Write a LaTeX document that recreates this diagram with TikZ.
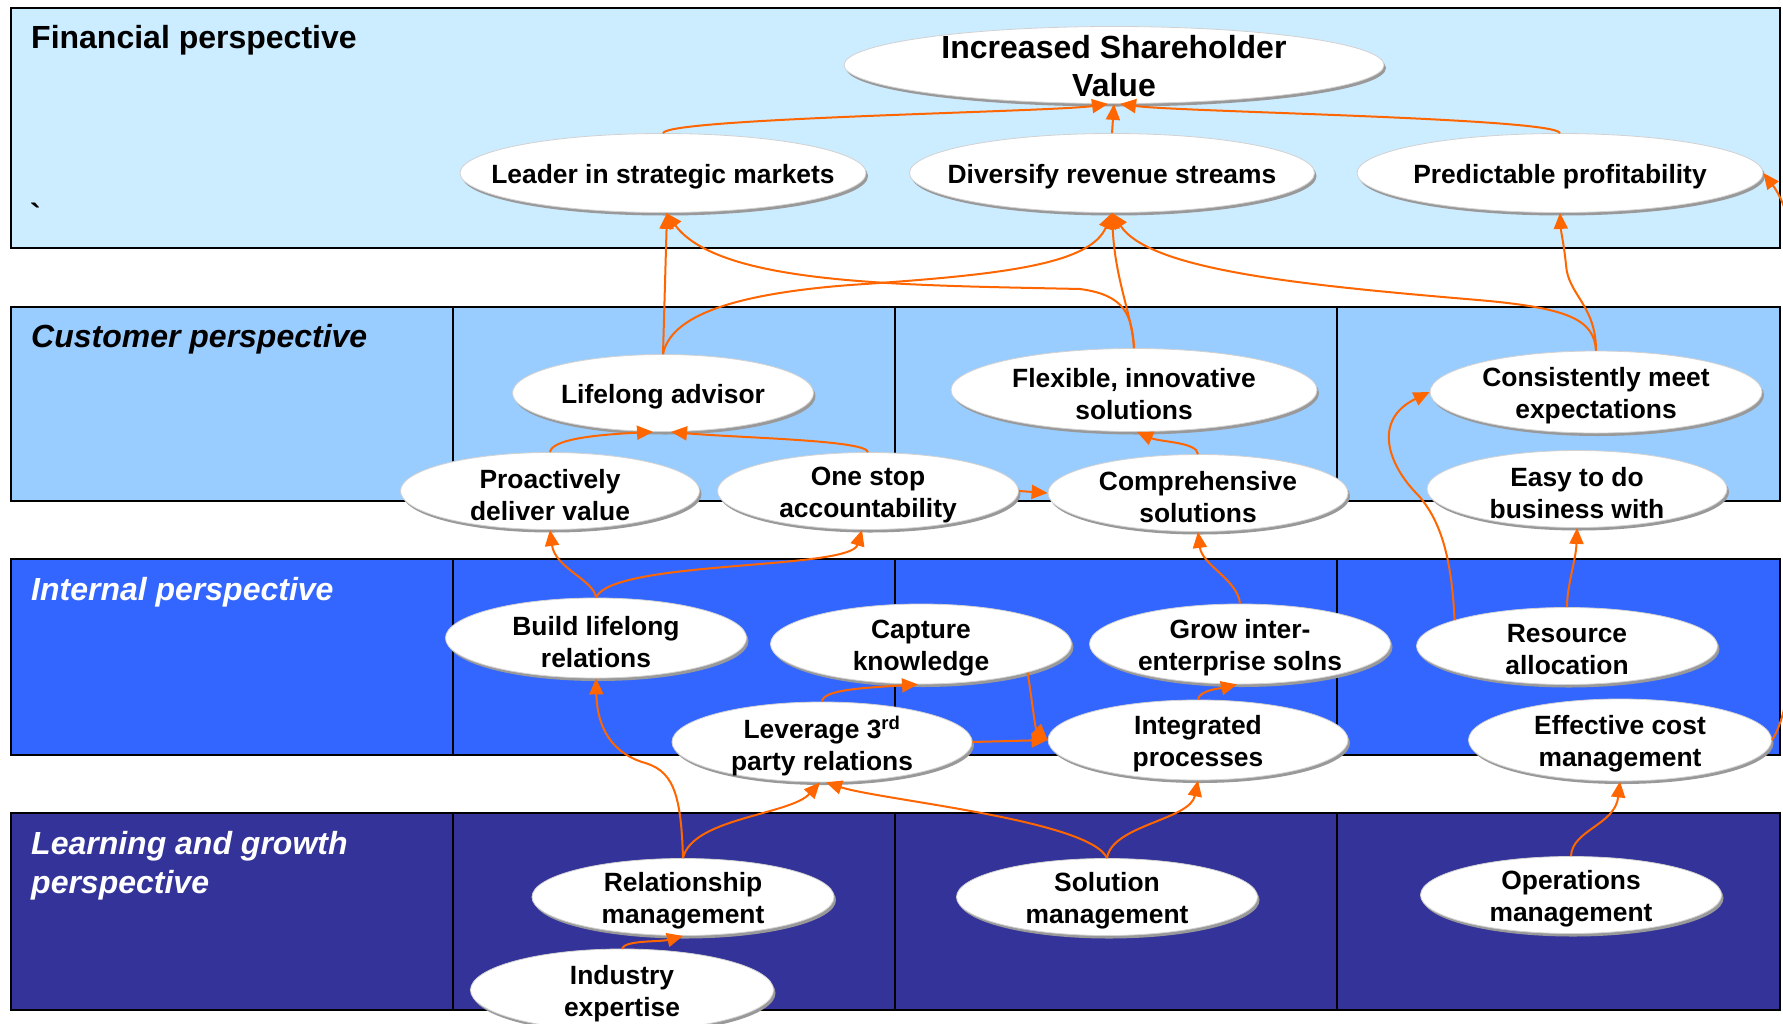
\documentclass[tikz,border=0pt]{standalone}
\usepackage{fontspec}
\setmainfont{Liberation Sans}
\usetikzlibrary{shapes.geometric,arrows.meta,shadows}
\definecolor{finblue}{HTML}{CCECFF}
\definecolor{cusblue}{HTML}{99CCFF}
\definecolor{intblue}{HTML}{3366FF}
\definecolor{lrnblue}{HTML}{333399}
\definecolor{arrcol}{HTML}{FF6600}
\tikzset{
  band/.style={draw=black,line width=2pt},
  divider/.style={draw=black,line width=2pt},
  oval/.style={ellipse,fill=white,draw=black!18,line width=0.8pt,inner sep=0pt,
    drop shadow={shadow xshift=2pt,shadow yshift=-3pt,fill=black!40,opacity=1}},
  ovaltext/.style={align=center,inner sep=0pt,yshift=-4pt,font=\fontsize{26.4}{32}\selectfont\bfseries},
  bigtext/.style={yshift=3pt,font=\fontsize{32}{37.5}\selectfont\bfseries},
  title/.style={anchor=base west,inner sep=0pt,font=\fontsize{32}{39}\selectfont\bfseries},
  titleit/.style={title,font=\fontsize{32}{39}\selectfont\bfseries\itshape},
  link/.style={draw=arrcol,line width=2pt,-{Triangle[length=16pt,width=14pt]}},
}
\newcommand\ovalnode[7][]{%
  \node[oval,minimum width=#5pt,minimum height=#6pt] (#2) at (#3,#4) {};
  \node[ovaltext,#1] (#2-t) at (#2) {#7};}
\begin{document}
\begin{tikzpicture}[x=1pt,y=-1pt]
\path[use as bounding box] (0,0) rectangle (1783,1023);
\clip (0,0) rectangle (1783,1023);
\fill[white] (0,0) rectangle (1783,1023);
% bands
\path[band,fill=finblue] (11,8) rectangle (1780,248);
\path[band,fill=cusblue] (11,307) rectangle (1780,501);
\path[band,fill=intblue] (11,559) rectangle (1780,755);
\path[band,fill=lrnblue] (11,813) rectangle (1780,1010);
\foreach \xx in {452.6,894.9,1337} {
  \draw[divider] (\xx,307) -- (\xx,501);
  \draw[divider] (\xx,559) -- (\xx,755);
  \draw[divider] (\xx,813) -- (\xx,1010);
}
% titles
\node[title] (fin-t) at (31,48) {Financial perspective};
\node[title] (tick) at (30,226) {\textasciigrave};
\node[titleit] (cus-t) at (31,347) {Customer perspective};
\node[titleit,text=white] (int-t) at (31,600) {Internal perspective};
\node[titleit,text=white] (lrn-t1) at (31,854) {Learning and growth};
\node[titleit,text=white] (lrn-t2) at (31,893) {perspective};
% ellipses
\ovalnode[bigtext]{isv}{1114}{65}{540}{77}{Increased Shareholder\\Value}
\ovalnode{leader}{663}{173}{406}{79}{Leader in strategic markets}
\ovalnode{divers}{1112}{173}{405}{79}{Diversify revenue streams}
\ovalnode{pred}{1560}{173}{406}{79}{Predictable profitability}
\ovalnode{lifelong}{663}{393}{301}{77}{Lifelong advisor}
\ovalnode{flex}{1134}{390}{366}{83}{Flexible, innovative\\solutions}
\ovalnode{consist}{1596}{392}{332}{82}{Consistently meet\\expectations}
\ovalnode{proact}{550}{491}{299}{77}{Proactively\\deliver value}
\ovalnode{onestop}{868}{491}{301}{77}{One stop\\accountability}
\ovalnode{compr}{1198}{493}{300}{77}{Comprehensive\\solutions}
\ovalnode{easy}{1577}{489}{300}{77}{Easy to do\\business with}
\ovalnode{build}{596}{638}{301}{80}{Build lifelong\\relations}
\ovalnode{capture}{921}{644}{301}{80}{Capture\\knowledge}
\ovalnode{grow}{1240}{644}{301}{80}{Grow inter-\\enterprise solns}
\ovalnode{resource}{1567}{646}{301}{77}{Resource\\allocation}
\ovalnode{leverage}{822}{742}{300}{80}{Leverage 3\textsuperscript{rd}\\party relations}
\ovalnode{integ}{1198}{740}{300}{80}{Integrated\\processes}
\ovalnode{effcost}{1620}{740}{303}{82}{Effective cost\\management}
\ovalnode{relman}{683}{897}{302}{77}{Relationship\\management}
\ovalnode{solman}{1107}{897}{301}{77}{Solution\\management}
\ovalnode{opsman}{1571}{895}{301}{77}{Operations\\management}
\ovalnode{industry}{622}{990}{303}{82}{Industry\\expertise}
% connectors
\draw[link] (leader.north) .. controls (668,118) and (1050,112) .. ([xshift=-6pt]isv.south);
\draw[link] (divers.north) -- (isv.south);
\draw[link] (pred.north) .. controls (1555,118) and (1180,112) .. ([xshift=6pt]isv.south);
\draw[link] (lifelong.north) -- ([xshift=4pt]leader.south);
\draw[link] (lifelong.north) .. controls (670,320) and (720,295) .. (850,285) .. controls (1000,275) and (1090,265) .. (divers.south);
\draw[link] (flex.north) .. controls (1132,315) and (1125,295) .. (1080,289) .. controls (900,285) and (720,285) .. ([xshift=3pt]leader.south);
\draw[link] (flex.north) .. controls (1132,315) and (1115,280) .. (divers.south);
\draw[link] (consist.north) .. controls (1594,320) and (1570,308) .. (1478,300) .. controls (1300,285) and (1150,270) .. (divers.south);
\draw[link] (consist.north) .. controls (1596,305) and (1568,295) .. (1566,265) .. controls (1564,245) and (1561,232) .. (pred.south);
\draw[link] (proact.north) .. controls (552,440) and (590,435) .. ([xshift=-10pt]lifelong.south);
\draw[link] (onestop.north) .. controls (866,440) and (740,438) .. ([xshift=8pt]lifelong.south);
\draw[link] (onestop.east) -- (compr.west);
\draw[link] (compr.north) .. controls (1197,442) and (1160,442) .. ([xshift=3pt]flex.south);
\draw[link] (build.north) .. controls (594,580) and (555,568) .. (proact.south);
\draw[link] (build.north) .. controls (612,560) and (850,570) .. ([xshift=-6pt]onestop.south);
\draw[link] (grow.north) .. controls (1238,580) and (1202,565) .. (compr.south);
\draw[link] (resource.167) .. controls (1452,570) and (1445,525) .. (1418,495) .. controls (1388,465) and (1372,420) .. (consist.west);
\draw[link] (resource.north) .. controls (1567,585) and (1576,560) .. (easy.south);
\draw[link] (leverage.north) .. controls (823,690) and (860,688) .. ([xshift=-3pt]capture.south);
\draw[link] (capture.345) .. controls (1032,700) and (1035,728) .. (integ.west);
\draw[link] (leverage.east) -- (integ.west);
\draw[link] (integ.north) .. controls (1199,690) and (1222,688) .. ([xshift=-3pt]grow.south);
\draw[link] (relman.north) .. controls (681,790) and (672,770) .. (642,762) .. controls (606,750) and (597,720) .. (build.south);
\draw[link] (relman.north) .. controls (692,818) and (790,815) .. ([xshift=-2pt]leverage.south);
\draw[link] (solman.north) .. controls (1090,820) and (880,800) .. ([xshift=4pt]leverage.south);
\draw[link] (solman.north) .. controls (1112,825) and (1190,820) .. (integ.south);
\draw[link] (opsman.north) .. controls (1572,830) and (1615,825) .. (effcost.south);
\draw[link] (industry.north) .. controls (625,940) and (660,942) .. (relman.south);
\draw[link] (effcost.east) .. controls (1810,690) and (1830,260) .. (pred.east);
\end{tikzpicture}
\end{document}
